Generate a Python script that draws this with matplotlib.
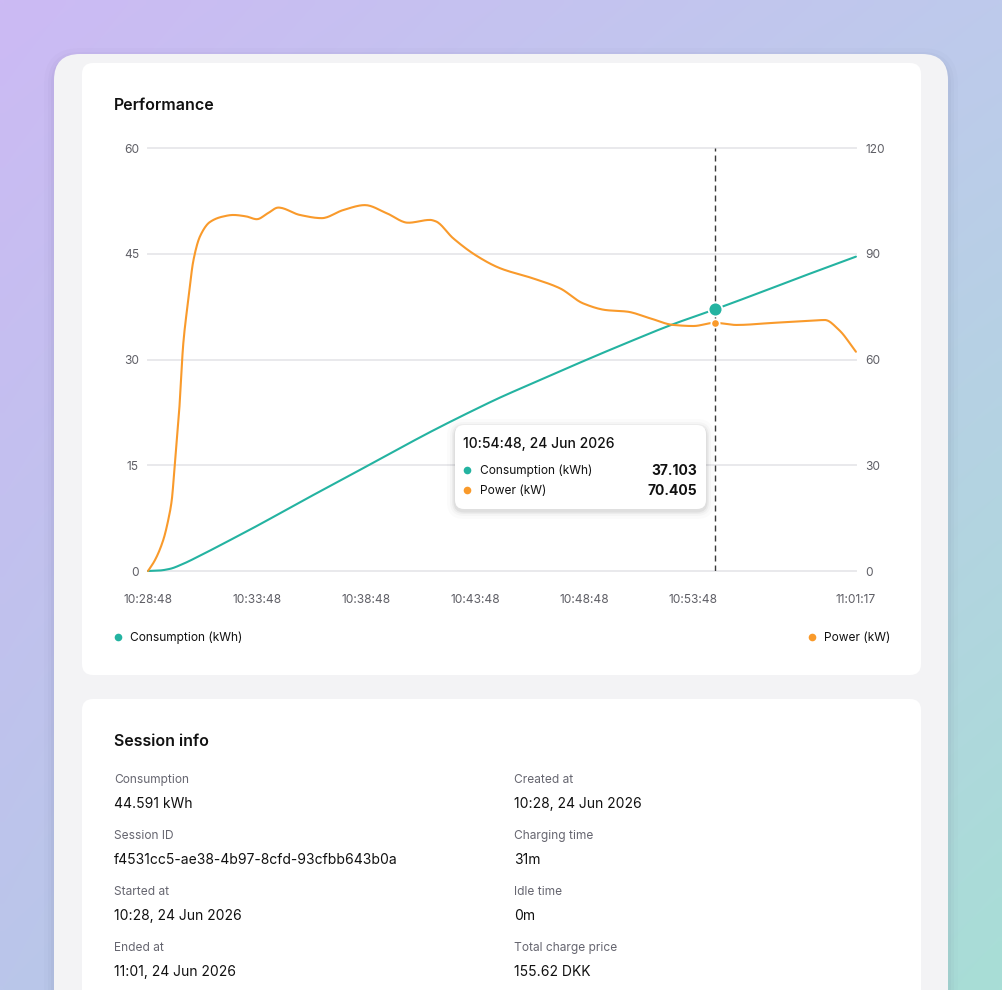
import numpy as np
import matplotlib
matplotlib.use("Agg")
import matplotlib.pyplot as plt
from matplotlib.patches import FancyBboxPatch

plt.rcParams['font.family'] = ['Inter', 'DejaVu Sans']

# ---------------- data ----------------
power_minutes = [0, 0.32, 0.7, 0.93, 1.09, 1.21, 1.32, 1.42, 1.62, 1.85, 2.08, 2.39, 2.84,
                 3.4, 3.91, 4.5, 4.99, 5.5, 5.98, 6.97, 7.97, 8.96, 9.95, 10.95,
                 11.94, 12.94, 13.2, 14.0, 15.08, 16.15, 17.67, 18.9, 19.97, 21.04,
                 21.96, 23.03, 24.1, 25.02, 26.0, 27.0, 28.7, 30.2, 31.06, 31.7, 32.48]
power_kw = [0, 3.1, 8.8, 14.5, 20.1, 28.7, 37.2, 44.5, 64.6, 77, 88, 95, 99,
            100.5, 101, 100.6, 99.8, 101.5, 103.1, 101.0, 100.1, 102.4, 103.8, 101.5,
            98.8, 99.6, 99.2, 94.4, 89.4, 85.9, 83.0, 80.2, 75.9, 74.0,
            73.6, 71.7, 69.8, 69.5, 70.405, 69.8, 70.4, 70.9, 71.2, 68.4, 62.2]

cons_minutes = [0, 0.5, 1.0, 1.6, 2.4, 3.9, 5.0, 7.0, 10.0, 13.0, 15.0, 16.15,
                18.0, 20.0, 22.0, 24.0, 26.0, 28.0, 30.0, 32.48]
cons_kwh = [0, 0.06, 0.3, 1.0, 2.2, 4.6, 6.4, 9.8, 14.8, 19.8, 22.9, 24.6,
            27.1, 29.8, 32.4, 34.9, 37.103, 39.4, 41.75, 44.591]

x_tick_minutes = [0, 5, 10, 15, 20, 25, 32.4833]
x_tick_labels = ["10:28:48", "10:33:48", "10:38:48", "10:43:48", "10:48:48", "10:53:48", "11:01:17"]
left_ticks = [0, 15, 30, 45, 60]
right_ticks = [0, 30, 60, 90, 120]

hover_minute = 26.0
hover_title = "10:54:48, 24 Jun 2026"
hover_consumption = 37.103
hover_power = 70.405

series_names = ["Consumption (kWh)", "Power (kW)"]

session_left = [("Consumption", "44.591 kWh"),
                ("Session ID", "f4531cc5-ae38-4b97-8cfd-93cfbb643b0a"),
                ("Started at", "10:28, 24 Jun 2026"),
                ("Ended at", "11:01, 24 Jun 2026")]
session_right = [("Created at", "10:28, 24 Jun 2026"),
                 ("Charging time", "31m"),
                 ("Idle time", "0m"),
                 ("Total charge price", "155.62 DKK")]

TEAL = "#24b3a1"
ORANGE = "#f99a2b"
GRID = "#e9e9ec"
TICK = "#5f5f66"


def smooth(x, y, n=16):
    x = np.asarray(x, float)
    y = np.asarray(y, float)
    h = np.diff(x)
    d = np.diff(y) / h
    m = np.zeros_like(y)
    m[0] = d[0]
    m[-1] = d[-1]
    for i in range(1, len(x) - 1):
        if d[i - 1] * d[i] <= 0:
            m[i] = 0.0
        else:
            w1 = 2 * h[i] + h[i - 1]
            w2 = h[i] + 2 * h[i - 1]
            m[i] = (w1 + w2) / (w1 / d[i - 1] + w2 / d[i])
    xs, ys = [], []
    for i in range(len(x) - 1):
        t = np.linspace(0, 1, n, endpoint=False)
        h00 = 2 * t**3 - 3 * t**2 + 1
        h10 = t**3 - 2 * t**2 + t
        h01 = -2 * t**3 + 3 * t**2
        h11 = t**3 - t**2
        xs.append(x[i] + t * h[i])
        ys.append(h00 * y[i] + h10 * h[i] * m[i] + h01 * y[i + 1] + h11 * h[i] * m[i + 1])
    xs.append([x[-1]])
    ys.append([y[-1]])
    return np.concatenate(xs), np.concatenate(ys)


W, H = 1003, 990
fig = plt.figure(figsize=(W / 100, H / 100), dpi=100)

# ---------------- background ----------------
bg = fig.add_axes([0, 0, 1, 1], zorder=0)
bg.set_xlim(0, W)
bg.set_ylim(H, 0)
bg.axis('off')
tl = np.array([204, 186, 244]) / 255
tr = np.array([190, 202, 236]) / 255
bl = np.array([186, 198, 234]) / 255
br = np.array([168, 222, 214]) / 255
gy, gx = np.mgrid[0:1:120j, 0:1:120j]
grad = ((1 - gx)[..., None] * (1 - gy)[..., None] * tl + gx[..., None] * (1 - gy)[..., None] * tr
        + (1 - gx)[..., None] * gy[..., None] * bl + gx[..., None] * gy[..., None] * br)
bg.imshow(grad, extent=[0, W, H, 0], aspect='auto', interpolation='bilinear', zorder=0)

# shadow of outer card
for k, a in [(10, 0.02), (6, 0.03), (3, 0.04)]:
    bg.add_patch(FancyBboxPatch((54 - k, 54 - k + 4), 894 + 2 * k, 1100,
                                boxstyle=f"round,pad=0,rounding_size={26 + k}",
                                fc=(0.3, 0.3, 0.45, a), ec='none', zorder=1))
bg.add_patch(FancyBboxPatch((54, 54), 894, 1100, boxstyle="round,pad=0,rounding_size=26",
                            fc="#f3f3f5", ec='none', zorder=2))
bg.add_patch(FancyBboxPatch((82, 63), 839, 612, boxstyle="round,pad=0,rounding_size=11",
                            fc="white", ec='none', zorder=3))
bg.add_patch(FancyBboxPatch((82, 699), 839, 400, boxstyle="round,pad=0,rounding_size=11",
                            fc="white", ec='none', zorder=3))

# ---------------- chart ----------------
ax = fig.add_axes([148 / W, 1 - 571 / H, (856 - 148) / W, (571 - 148) / H], zorder=2)
ax.set_facecolor('none')
ax.set_xlim(0, x_tick_minutes[-1])
ax.set_ylim(0, 60)
for s in ax.spines.values():
    s.set_visible(False)
for v in left_ticks:
    ax.axhline(v, color=GRID, lw=1.4, zorder=1, clip_on=False)
ax.set_yticks(left_ticks)
ax.set_yticklabels([str(v) for v in left_ticks])
ax.set_xticks(x_tick_minutes)
ax.set_xticklabels(x_tick_labels)
ax.tick_params(axis='y', length=0, pad=6.5, labelsize=8.6, labelcolor=TICK)
ax.tick_params(axis='x', length=0, pad=16.5, labelsize=8.6, labelcolor=TICK)

ax2 = ax.twinx()
ax2.set_ylim(0, 120)
for s in ax2.spines.values():
    s.set_visible(False)
ax2.set_yticks(right_ticks)
ax2.set_yticklabels([str(v) for v in right_ticks])
ax2.tick_params(axis='y', length=0, pad=6.5, labelsize=8.6, labelcolor=TICK)

cx, cy = smooth(cons_minutes, cons_kwh)
px, py = smooth(power_minutes, power_kw)
ax.plot(cx, cy, color=TEAL, lw=1.5, clip_on=False, zorder=3, solid_capstyle='round')
ax2.plot(px, py, color=ORANGE, lw=1.5, clip_on=False, zorder=3, solid_capstyle='round')

ax.axvline(hover_minute, color="#3a3a3a", lw=1.0, dashes=(4.3, 2.9), zorder=2)
ax.plot([hover_minute], [hover_consumption], 'o', ms=10, mfc=TEAL, mec='white', mew=1.3,
        zorder=5, clip_on=False)
ax2.plot([hover_minute], [hover_power], 'o', ms=6, mfc=ORANGE, mec='white', mew=1.2,
         zorder=5, clip_on=False)

# ---------------- overlay: text and tooltip ----------------
ov = fig.add_axes([0, 0, 1, 1], zorder=5)
ov.set_xlim(0, W)
ov.set_ylim(H, 0)
ov.axis('off')

ov.text(114, 105, "Performance", fontsize=11.5, fontweight='semibold', color="#111111",
        va='center', ha='left')

# legend
ov.plot([118], [637], 'o', ms=5.5, color=TEAL, mec='none')
ov.text(130, 638, series_names[0], fontsize=8.6, color="#111111", va='center', ha='left')
ov.plot([812], [637], 'o', ms=5.5, color=ORANGE, mec='none')
ov.text(824, 638, series_names[1], fontsize=8.6, color="#111111", va='center', ha='left')

# tooltip
tx, ty, tw, th = 455, 425, 251, 84
for k, a in [(8, 0.015), (5, 0.025), (3, 0.035), (1.5, 0.05)]:
    ov.add_patch(FancyBboxPatch((tx - k, ty - k + 2), tw + 2 * k, th + 2 * k,
                                boxstyle=f"round,pad=0,rounding_size={9 + k}",
                                fc=(0, 0, 0, a), ec='none', zorder=6))
ov.add_patch(FancyBboxPatch((tx, ty), tw, th, boxstyle="round,pad=0,rounding_size=9",
                            fc="white", ec='none', zorder=7))
ov.text(463, 444, hover_title, fontsize=10, fontweight='medium', color="#111111",
        va='center', ha='left', zorder=8)
rows = [(TEAL, series_names[0], f"{hover_consumption:.3f}", 471),
        (ORANGE, series_names[1], f"{hover_power:.3f}", 491)]
for col, name, val, yy in rows:
    ov.plot([467], [yy - 1], 'o', ms=5.5, color=col, mec='none', zorder=8)
    ov.text(480, yy, name, fontsize=8.6, color="#111111", va='center', ha='left', zorder=8)
    ov.text(697, yy, val, fontsize=10, fontweight='bold', color="#111111", va='center',
            ha='right', zorder=8)

# session info
ov.text(114, 741, "Session info", fontsize=11.5, fontweight='semibold', color="#111111",
        va='center', ha='left')
for col_x, items in [(114, session_left), (514, session_right)]:
    for i, (lab, val) in enumerate(items):
        y0 = 780 + 56 * i
        ov.text(col_x, y0, lab, fontsize=8.6, color="#666670", va='center', ha='left')
        ov.text(col_x, y0 + 24, val, fontsize=10, color="#111111", va='center', ha='left')

fig.savefig("out.png", dpi=100)
